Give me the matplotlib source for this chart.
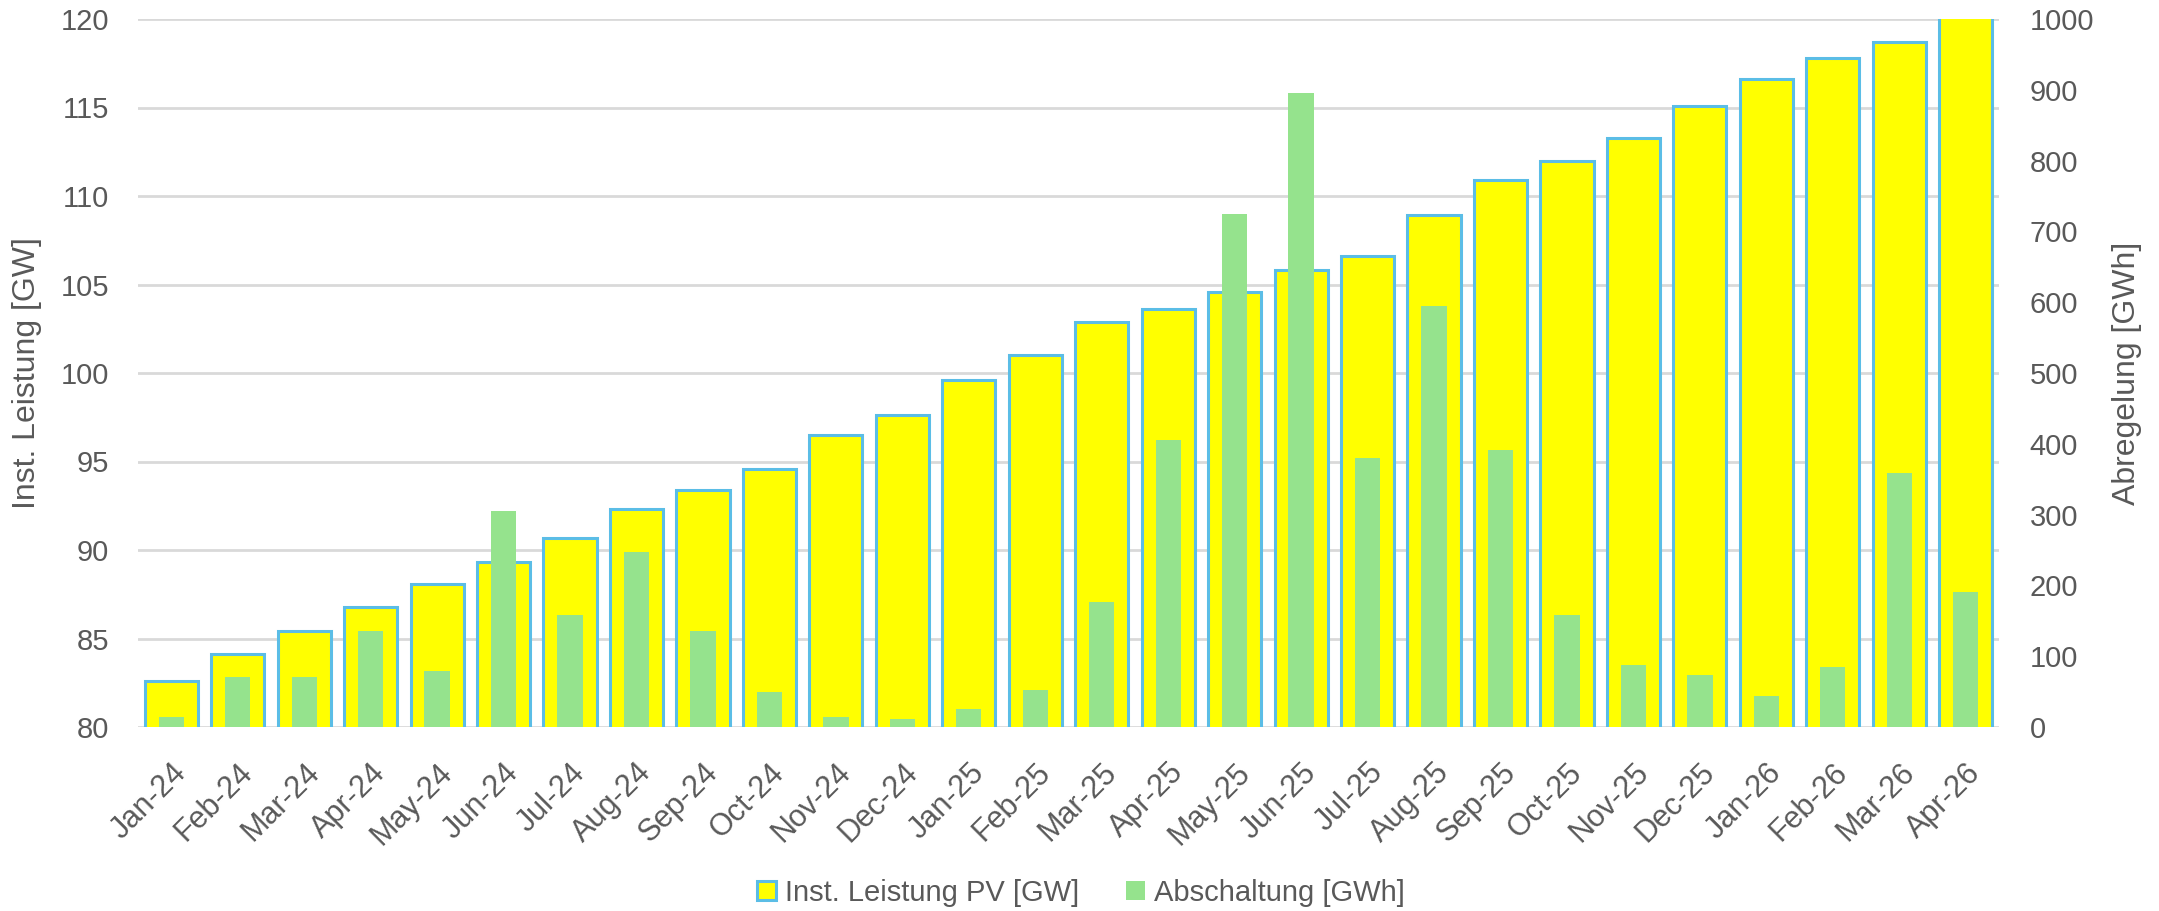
import matplotlib
matplotlib.use("Agg")
import matplotlib.pyplot as plt
import numpy as np

months = ["Jan-24", "Feb-24", "Mar-24", "Apr-24", "May-24", "Jun-24", "Jul-24",
          "Aug-24", "Sep-24", "Oct-24", "Nov-24", "Dec-24", "Jan-25", "Feb-25",
          "Mar-25", "Apr-25", "May-25", "Jun-25", "Jul-25", "Aug-25", "Sep-25",
          "Oct-25", "Nov-25", "Dec-25", "Jan-26", "Feb-26", "Mar-26", "Apr-26"]
leistung_gw = [82.6, 84.1, 85.4, 86.8, 88.1, 89.3, 90.7, 92.3, 93.4, 94.6,
               96.5, 97.6, 99.6, 101.0, 102.9, 103.6, 104.6, 105.8, 106.6, 108.9,
               110.9, 112.0, 113.3, 115.1, 116.6, 117.8, 118.7, 120.5]
abschaltung_gwh = [14, 70, 70, 136, 79, 305, 158, 247, 136, 49,
                   14, 11, 25, 52, 177, 405, 725, 895, 380, 595,
                   391, 158, 88, 73, 44, 85, 359, 191]
left_ticks = [80, 85, 90, 95, 100, 105, 110, 115, 120]
right_ticks = [0, 100, 200, 300, 400, 500, 600, 700, 800, 900, 1000]

plt.rcParams['font.family'] = ['Liberation Sans', 'DejaVu Sans']
TXT = "#595959"
FS = 21

fig = plt.figure(figsize=(21.59, 9.11), dpi=100)
ax = fig.add_axes([138/2159, 1-727/911, 1861/2159, 708/911])
ax2 = ax.twinx()

x = np.arange(len(months))
ax.bar(x, leistung_gw, width=0.80, color="#FFFF00", edgecolor="#5BBDE6",
       linewidth=2.2, label="Inst. Leistung PV [GW]", zorder=2)
ax2.bar(x, abschaltung_gwh, width=0.38, color="#95E38D",
        label="Abschaltung [GWh]", zorder=3)

ax.set_ylim(80, 120)
ax2.set_ylim(0, 1000)
ax.set_xlim(-0.5, len(months) - 0.5)
ax.set_yticks(left_ticks)
ax2.set_yticks(right_ticks)
ax.set_xticks(x)
ax.set_xticklabels(months, rotation=45, ha='right', rotation_mode='anchor')

ax.grid(axis='y', color="#D9D9D9", linewidth=2.0, zorder=0)
ax.set_axisbelow(True)
for a in (ax, ax2):
    for s in a.spines.values():
        s.set_visible(False)
ax.tick_params(axis='y', length=0, pad=21, labelsize=FS, labelcolor=TXT)
ax.tick_params(axis='x', length=0, pad=22, labelsize=22, labelcolor=TXT)
ax2.tick_params(axis='y', length=0, pad=22, labelsize=FS, labelcolor=TXT)

ax.set_ylabel("Inst. Leistung [GW]", fontsize=23, color=TXT)
ax.yaxis.set_label_coords((42-138)/1861, 0.5)
ax2.set_ylabel("Abregelung [GWh]", fontsize=23, color=TXT, rotation=90)
ax2.yaxis.set_label_coords((2112-138)/1861, 0.5)

h1, l1 = ax.get_legend_handles_labels()
h2, l2 = ax2.get_legend_handles_labels()
fig.legend(h1 + h2, l1 + l2, loc='center', bbox_to_anchor=(1081/2159, 1-893/911),
           ncol=2, frameon=False, fontsize=21, labelcolor=TXT,
           handlelength=0.65, handleheight=0.65, handletextpad=0.3,
           columnspacing=1.6)

fig.savefig("out.png", dpi=100)
